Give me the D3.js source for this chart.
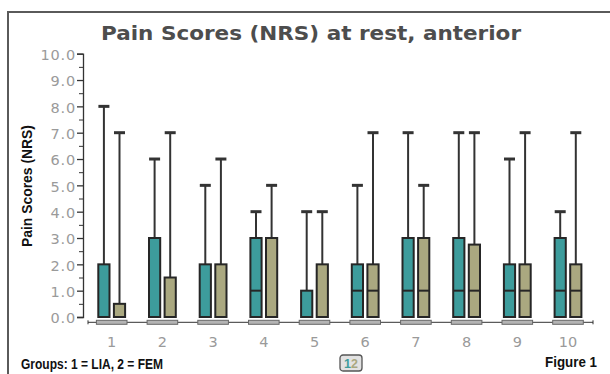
<!DOCTYPE html>
<html>
<head>
<meta charset="utf-8">
<script src="https://cdn.jsdelivr.net/npm/d3@7"></script>
<style>
  body { margin: 0; background: #fff; }
</style>
</head>
<body>
<div id="graph"></div>
<script>
// periods 1..10, two groups each
var groups = ['1', '2', '3', '4', '5', '6', '7', '8', '9', '10'];
var liaMin = [0, 0, 0, 0, 0, 0, 0, 0, 0, 0];
var liaQ1 = [0, 0, 0, 0, 0, 0, 0, 0, 0, 0];
var liaMedian = [0, 0, 0, 1, 0, 1, 1, 1, 1, 1];
var liaQ3 = [2, 3, 2, 3, 1, 2, 3, 3, 2, 3];
var liaMax = [8, 6, 5, 4, 4, 5, 7, 7, 6, 4];
var femMin = [0, 0, 0, 0, 0, 0, 0, 0, 0, 0];
var femQ1 = [0, 0, 0, 0, 0, 0, 0, 0, 0, 0];
var femMedian = [0, 0, 0, 0, 0, 1, 1, 1, 1, 1];
var femQ3 = [0.5, 1.5, 2, 3, 2, 2, 3, 2.75, 2, 2];
var femMax = [7, 7, 6, 5, 4, 7, 5, 7, 7, 7];
var yTicks = [0, 1, 2, 3, 4, 5, 6, 7, 8, 9, 10];

var width = 610, height = 374;
var lia = '#3d9c9c', fem = '#aaa880', ink = '#262626';
var sans = '"DejaVu Sans", sans-serif',
    arial = '"Liberation Sans", Arial, sans-serif';

var svg = d3.select('#graph')
    .append('svg')
        .attr('width', width)
        .attr('height', height);

// frame
svg.append('path')
    .attr('d', 'M8,374V12H610')
    .attr('fill', 'none')
    .attr('stroke', '#5a5a5a')
    .attr('stroke-width', 2);

svg.append('text')
    .attr('x', 311)
    .attr('y', 40)
    .attr('text-anchor', 'middle')
    .attr('font-family', sans)
    .attr('font-size', 19)
    .attr('font-weight', 'bold')
    .attr('fill', '#4d4d4d')
    .attr('textLength', 420)
    .attr('lengthAdjust', 'spacingAndGlyphs')
    .text('Pain Scores (NRS) at rest, anterior');

var x = d3.scaleBand()
    .domain(groups)
    .range([86.35, 593.35]);

var y = d3.scaleLinear()
    .domain([0, 10])
    .range([317, 53.7]);

// minor ticks
svg.append('g')
    .attr('transform', 'translate(83,0)')
    .call(d3.axisLeft(y).tickValues(d3.range(0.5, 10, 1)).tickSize(4).tickFormat(''))
    .call(function(g) { g.select('.domain').remove(); })
    .selectAll('line').attr('stroke', '#333');

var yAxis = svg.append('g')
    .attr('transform', 'translate(83,0)')
    .call(d3.axisLeft(y).tickValues(yTicks).tickSize(6).tickPadding(1).tickFormat(d3.format('.1f')));
yAxis.select('.domain').attr('stroke', '#333').attr('stroke-width', 1.3);
yAxis.selectAll('line').attr('stroke', '#333').attr('stroke-width', 1.3);
yAxis.selectAll('text')
    .attr('font-family', sans)
    .attr('font-size', 14.5)
    .attr('letter-spacing', 0.8)
    .attr('fill', '#9a9a9a')
    .attr('dy', '0.4em');

svg.append('text')
    .attr('transform', 'translate(32,186) rotate(-90)')
    .attr('text-anchor', 'middle')
    .attr('font-family', arial)
    .attr('font-size', 14.5)
    .attr('font-weight', 'bold')
    .attr('fill', '#111')
    .attr('textLength', 122)
    .attr('lengthAdjust', 'spacingAndGlyphs')
    .text('Pain Scores (NRS)');

// x axis base line
var baseY = 322.3;
svg.append('path')
    .attr('d', 'M88,' + (baseY - 2) + 'V' + (baseY + 2) + 'M88,' + baseY + 'H593M593,' + (baseY - 2) + 'V' + (baseY + 2))
    .attr('fill', 'none')
    .attr('stroke', '#333')
    .attr('stroke-width', 1);

svg.append('g')
    .selectAll('rect')
    .data(groups)
    .enter()
    .append('rect')
        .attr('x', function(d) { return x(d) + x.bandwidth() / 2 - 15.3; })
        .attr('y', baseY - 2)
        .attr('width', 30.6)
        .attr('height', 4)
        .attr('fill', '#b4b4b4')
        .attr('stroke', '#666')
        .attr('stroke-width', 1);

svg.append('g')
    .selectAll('text')
    .data(groups)
    .enter()
    .append('text')
        .attr('x', function(d) { return x(d) + x.bandwidth() / 2; })
        .attr('y', 347)
        .attr('text-anchor', 'middle')
        .attr('font-family', sans)
        .attr('font-size', 14.5)
        .attr('fill', '#9a9a9a')
        .text(function(d) { return d; });

function drawBoxes(name, offset, color, mins, q1, med, q3, max) {
    var rows = groups.map(function(g, i) {
        return {g: g, min: mins[i], q1: q1[i], med: med[i], q3: q3[i], max: max[i]};
    });
    var boxW = 11.2;
    var cx = function(d) { return x(d.g) + x.bandwidth() / 2 + offset; };
    var layer = svg.append('g').attr('class', name);

    // whisker
    layer.selectAll('.whisker')
        .data(rows)
        .enter()
        .append('line')
            .attr('x1', cx)
            .attr('x2', cx)
            .attr('y1', function(d) { return y(d.max); })
            .attr('y2', function(d) { return y(d.q3); })
            .attr('stroke', '#333')
            .attr('stroke-width', 2);

    layer.selectAll('.cap')
        .data(rows)
        .enter()
        .append('line')
            .attr('x1', function(d) { return cx(d) - 5.5; })
            .attr('x2', function(d) { return cx(d) + 5.5; })
            .attr('y1', function(d) { return y(d.max); })
            .attr('y2', function(d) { return y(d.max); })
            .attr('stroke', '#333')
            .attr('stroke-width', 3);

    layer.selectAll('.box')
        .data(rows)
        .enter()
        .append('rect')
            .attr('x', function(d) { return cx(d) - boxW / 2; })
            .attr('y', function(d) { return y(d.q3); })
            .attr('width', boxW)
            .attr('height', function(d) { return y(d.q1) - y(d.q3); })
            .attr('fill', color)
            .attr('stroke', ink)
            .attr('stroke-width', 2);

    layer.selectAll('.median')
        .data(rows.filter(function(d) { return d.med > d.q1 && d.med < d.q3; }))
        .enter()
        .append('line')
            .attr('x1', function(d) { return cx(d) - boxW / 2; })
            .attr('x2', function(d) { return cx(d) + boxW / 2; })
            .attr('y1', function(d) { return y(d.med); })
            .attr('y2', function(d) { return y(d.med); })
            .attr('stroke', ink)
            .attr('stroke-width', 2);
}

drawBoxes('lia', -7.8, lia, liaMin, liaQ1, liaMedian, liaQ3, liaMax);
drawBoxes('fem', 7.8, fem, femMin, femQ1, femMedian, femQ3, femMax);

// footer
svg.append('text')
    .attr('x', 21)
    .attr('y', 369)
    .attr('font-family', arial)
    .attr('font-size', 15)
    .attr('font-weight', 'bold')
    .attr('fill', '#111')
    .attr('textLength', 142)
    .attr('lengthAdjust', 'spacingAndGlyphs')
    .text('Groups: 1 = LIA, 2 = FEM');

svg.append('text')
    .attr('x', 597)
    .attr('y', 367)
    .attr('text-anchor', 'end')
    .attr('font-family', arial)
    .attr('font-size', 15)
    .attr('font-weight', 'bold')
    .attr('fill', '#111')
    .attr('textLength', 52)
    .attr('lengthAdjust', 'spacingAndGlyphs')
    .text('Figure 1');

var key = svg.append('g').attr('transform', 'translate(340,355)');
key.append('rect')
    .attr('width', 22)
    .attr('height', 16)
    .attr('rx', 3)
    .attr('fill', '#e2e2e2')
    .attr('stroke', '#555')
    .attr('stroke-width', 1.3);
var keyText = key.append('text')
    .attr('x', 11)
    .attr('y', 12.5)
    .attr('text-anchor', 'middle')
    .attr('font-family', arial)
    .attr('font-size', 12.5)
    .attr('font-weight', 'bold');
keyText.append('tspan').attr('fill', lia).text('1');
keyText.append('tspan').attr('fill', fem).text('2');
</script>
</body>
</html>
